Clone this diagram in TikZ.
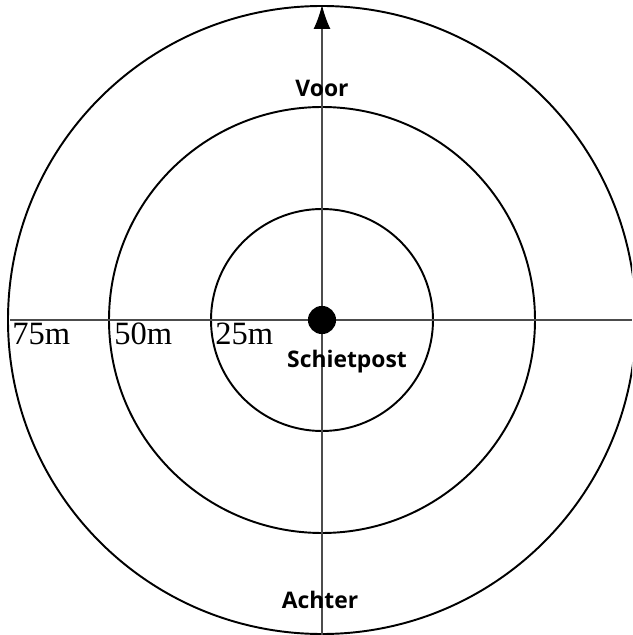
\documentclass[tikz,border=0pt]{standalone}
\usepackage{fontspec}
\setmainfont{Liberation Serif}
\setsansfont{Open Sans}
\usetikzlibrary{arrows.meta}
\begin{document}
\begin{tikzpicture}[x=0.02cm,y=0.02cm,
  ring/.style={draw=black, line width=1.1pt},
  axis/.style={draw=black!70, line width=0.8pt},
  dist/.style={anchor=north west, inner sep=0pt, font=\fontsize{18.5}{18.5}\selectfont},
  lbl/.style={inner sep=0pt, font=\sffamily\bfseries\fontsize{13}{13}\selectfont}]
\useasboundingbox (-322,-315) rectangle (310,320);
\clip (-322,-315) rectangle (310,320);
% rings
\draw[ring] (0,0) circle (111);
\draw[ring] (0,0) circle (213);
\draw[ring] (0,0) circle (314);
% axes
\coordinate (west) at (-312,0);
\coordinate (east) at (310,0);
\coordinate (south) at (0,-315);
\coordinate (north) at (0,315);
\draw[axis] (west) -- (east);
\draw[axis, -{Latex[length=0.48cm,width=0.34cm,black]}] (south) -- (north);
\node[circle, fill=black, inner sep=0pt, minimum size=16] (post) at (0,0) {};
% labels
\node[dist] (d75) at (-310,-3) {75m};
\node[dist] (d50) at (-208,-3) {50m};
\node[dist] (d25) at (-107,-3) {25m};
\node[lbl] (voor) at (0,232) {Voor};
\node[lbl] (schiet) at (25,-42) {Schietpost};
\node[lbl] (achter) at (-2,-280) {Achter};
\end{tikzpicture}
\end{document}
